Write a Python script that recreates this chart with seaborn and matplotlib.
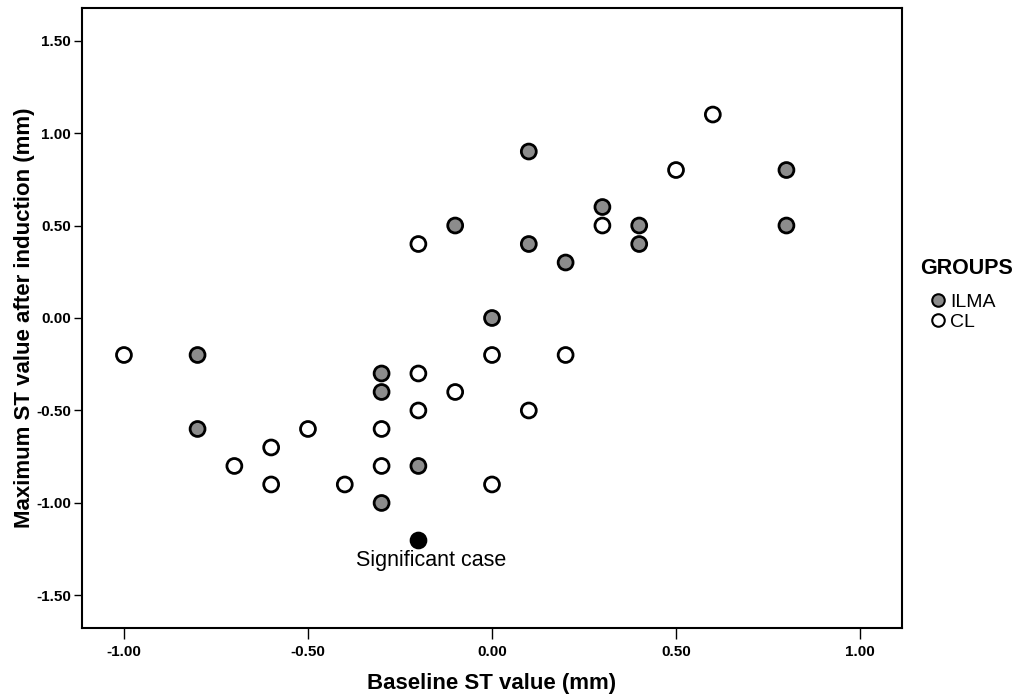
import numpy as np
import pandas as pd
import matplotlib
matplotlib.use('Agg')
import matplotlib.pyplot as plt
import seaborn as sns
from matplotlib.lines import Line2D

# data
ilma_x = [-0.8, -0.8, -0.3, -0.3, -0.3, -0.2, -0.1, 0.0, 0.1, 0.1, 0.2, 0.3, 0.4, 0.4, 0.8, 0.8]
ilma_y = [-0.2, -0.6, -0.3, -0.4, -1.0, -0.8, 0.5, 0.0, 0.9, 0.4, 0.3, 0.6, 0.5, 0.4, 0.8, 0.5]
cl_x = [-1.0, -0.7, -0.6, -0.6, -0.5, -0.4, -0.3, -0.3, -0.2, -0.2, -0.2, -0.1, 0.0, 0.0, 0.1, 0.2, 0.3, 0.5, 0.6]
cl_y = [-0.2, -0.8, -0.7, -0.9, -0.6, -0.9, -0.6, -0.8, 0.4, -0.3, -0.5, -0.4, -0.2, -0.9, -0.5, -0.2, 0.5, 0.8, 1.1]
sig_x = [-0.2]
sig_y = [-1.2]
groups = ['ILMA', 'CL']
colors = {'ILMA': '#8c8c8c', 'CL': '#ffffff'}
xticks = [-1.0, -0.5, 0.0, 0.5, 1.0]
yticks = [-1.5, -1.0, -0.5, 0.0, 0.5, 1.0, 1.5]

df = pd.DataFrame({
    'x': ilma_x + cl_x,
    'y': ilma_y + cl_y,
    'group': ['ILMA'] * len(ilma_x) + ['CL'] * len(cl_x),
})

sns.set_style('white')
plt.rcParams['font.family'] = ['Liberation Sans', 'DejaVu Sans']
plt.rcParams['text.color'] = 'black'
plt.rcParams['axes.labelcolor'] = 'black'
plt.rcParams['xtick.color'] = 'black'
plt.rcParams['ytick.color'] = 'black'

fig = plt.figure(figsize=(10.16, 6.95), dpi=100)
ax = fig.add_axes([0.0807, 0.0964, 0.8071, 0.8921])

sns.scatterplot(data=df, x='x', y='y', hue='group', hue_order=groups, palette=colors,
                s=115, edgecolor='black', linewidth=2, legend=False, ax=ax, zorder=3)
ax.scatter(sig_x, sig_y, s=115, c='black', edgecolors='black', linewidths=2, zorder=3)
ax.annotate('Significant case', (sig_x[0], sig_y[0]), xytext=(9, -14.5), textcoords='offset points',
            ha='center', va='center', fontsize=15.5)

ax.set_xlim(-1.114, 1.114)
ax.set_ylim(-1.676, 1.676)
ax.set_xticks(xticks)
ax.set_yticks(yticks)
ax.set_xticklabels(['%.2f' % v for v in xticks], fontweight='bold', fontsize=11)
ax.set_yticklabels(['%.2f' % v for v in yticks], fontweight='bold', fontsize=11)
ax.tick_params(axis='x', direction='out', length=8, width=1, pad=4, bottom=True)
ax.tick_params(axis='y', direction='out', length=6, width=1, pad=2, left=True)
for sp in ax.spines.values():
    sp.set_color('black')
    sp.set_linewidth(1.5)

ax.set_xlabel('Baseline ST value (mm)', fontsize=16, fontweight='bold', labelpad=10)
ax.set_ylabel('Maximum ST value after induction (mm)', fontsize=16, fontweight='bold', labelpad=1)

fig.text(920 / 1016, 1 - 268 / 695, 'GROUPS', fontsize=15.5, fontweight='bold', ha='left', va='center')
handles = [Line2D([], [], marker='o', linestyle='', markersize=9, markerfacecolor=colors[g],
                  markeredgecolor='black', markeredgewidth=1.5, label=g) for g in groups]
leg = fig.legend(handles=handles, loc='upper left', bbox_to_anchor=(928 / 1016, 1 - 293 / 695),
                 frameon=False, fontsize=14, handletextpad=0.15, labelspacing=0.15,
                 handlelength=1.0, borderaxespad=0, borderpad=0)

fig.savefig('out.png', dpi=100)
